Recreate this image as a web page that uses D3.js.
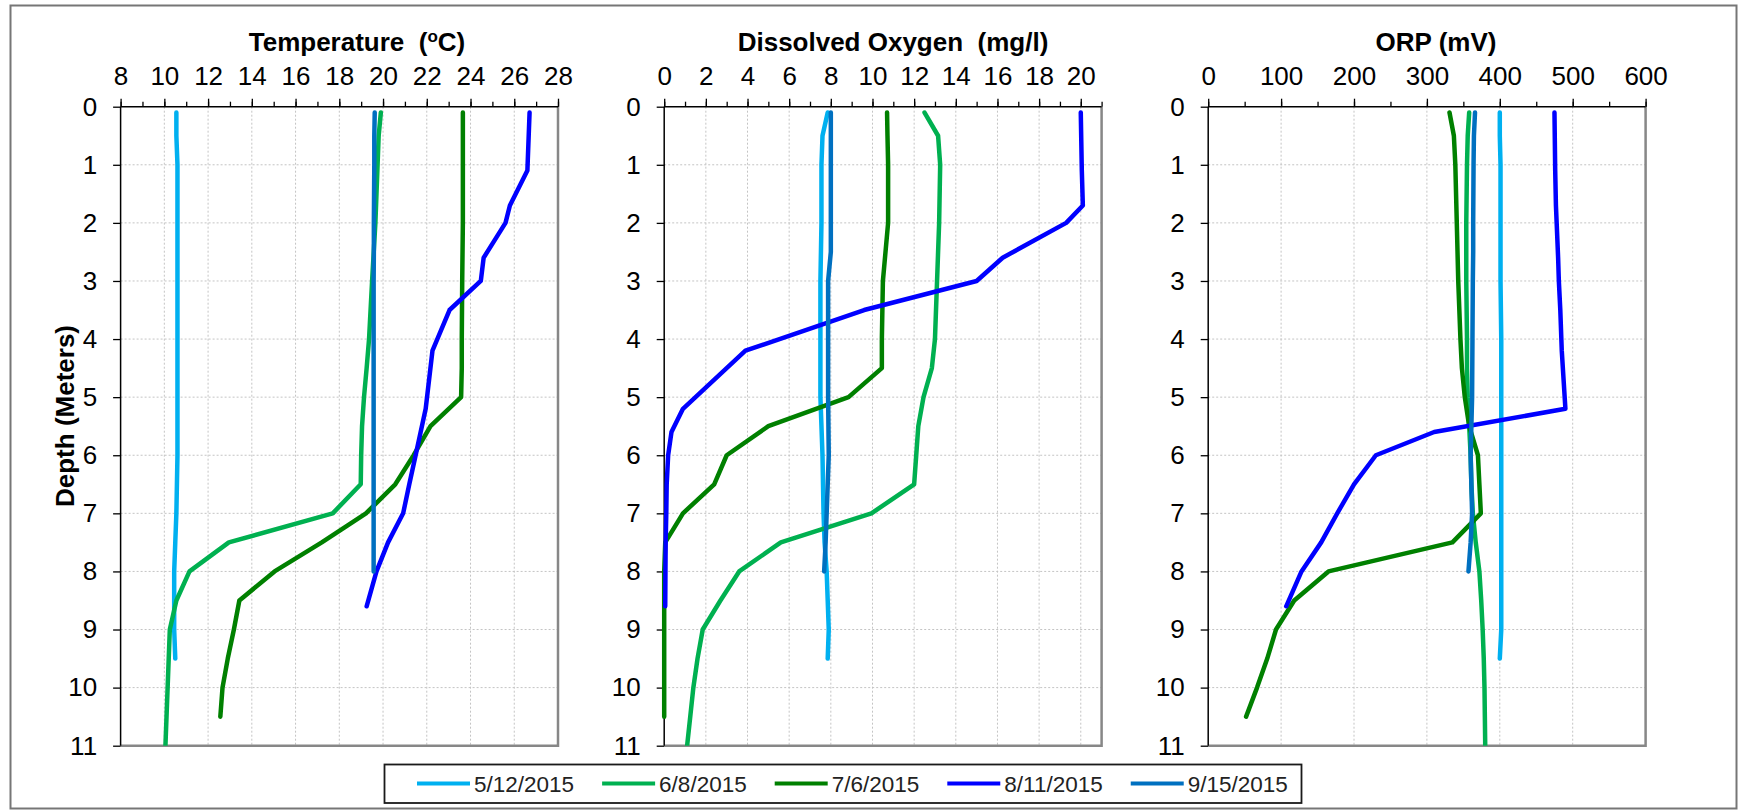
<!DOCTYPE html>
<html>
<head>
<meta charset="utf-8">
<script src="https://cdn.jsdelivr.net/npm/d3@7"></script>
<style>
  html, body { margin: 0; padding: 0; background: #fff; }
  svg { display: block; }
  text { font-family: "Liberation Sans", Arial, Helvetica, sans-serif; }
</style>
</head>
<body>
<svg id="chart" width="1739" height="811"></svg>
<script>
// ---- Profile data: depth (m) and readings per sampling date ----
const dates  = ["5/12/2015", "6/8/2015", "7/6/2015", "8/11/2015", "9/15/2015"];
const colors = ["#00B0F0", "#00B050", "#008000", "#0000FF", "#0070C0"];

const depth0512 = [0.1, 0.5, 1, 2, 3, 4, 5, 6, 7, 7.5, 8, 8.5, 9, 9.5];
const temp0512  = [10.55, 10.55, 10.6, 10.6, 10.6, 10.6, 10.6, 10.6, 10.55, 10.5, 10.45, 10.45, 10.45, 10.5];
const do0512    = [7.85, 7.6, 7.55, 7.55, 7.5, 7.5, 7.5, 7.6, 7.65, 7.7, 7.8, 7.85, 7.9, 7.85];
const orp0512   = [400, 400, 401, 401, 401, 402, 402, 402, 402, 402, 402, 402, 402, 400];

const depth0608 = [0.1, 0.5, 1, 2, 3, 4, 4.5, 5, 5.5, 6, 6.5, 7, 7.5, 8, 8.5, 9, 9.5, 10, 10.5, 11];
const temp0608  = [19.9, 19.8, 19.75, 19.65, 19.5, 19.36, 19.25, 19.13, 19.04, 19.0, 18.98, 17.7, 12.95, 11.15, 10.55, 10.25, 10.2, 10.15, 10.1, 10.05];
const do0608    = [12.5, 13.15, 13.25, 13.2, 13.1, 13.0, 12.85, 12.45, 12.2, 12.1, 12.0, 9.95, 5.6, 3.6, 2.7, 1.85, 1.6, 1.4, 1.25, 1.1];
const orp0608   = [358, 356, 355, 354, 354, 355, 355, 356, 358, 360, 361, 363, 367, 372, 374.5, 376.5, 378, 379, 379.5, 380];

const depth0706 = [0.1, 0.5, 1, 2, 3, 4, 4.5, 5, 5.5, 6, 6.5, 7, 7.5, 8, 8.5, 9, 9.5, 10, 10.5];
const temp0706  = [23.65, 23.65, 23.65, 23.65, 23.62, 23.6, 23.6, 23.57, 22.17, 21.4, 20.56, 19.22, 17.2, 15.04, 13.43, 13.18, 12.9, 12.66, 12.56];
const do0706    = [10.7, 10.72, 10.75, 10.75, 10.5, 10.45, 10.45, 8.85, 5.0, 3.0, 2.4, 0.9, 0.05, 0, 0, 0, 0, 0, 0];
const orp0706   = [331, 337, 339, 341, 343, 346, 348, 352, 358, 370, 372, 374, 335, 165, 118, 93, 81, 67, 52];

const depth0811 = [0.1, 1.1, 1.7, 2, 2.6, 3, 3.5, 4.2, 5.2, 5.6, 6, 6.5, 7, 7.5, 8, 8.6];
const temp0811  = [26.7, 26.6, 25.8, 25.6, 24.6, 24.47, 23.04, 22.26, 21.95, 21.72, 21.49, 21.2, 20.92, 20.23, 19.7, 19.25];
const do0811    = [20.0, 20.05, 20.1, 19.3, 16.25, 15.0, 9.6, 3.9, 0.9, 0.35, 0.19, 0.12, 0.1, 0.07, 0.06, 0.05];
const orp0811   = [475, 476, 477, 478, 480, 481, 483, 485, 490, 310, 230, 200, 177, 155, 128, 107];

const depth0915 = [0.1, 0.5, 1, 2, 2.5, 3, 4, 5, 6, 7, 7.5, 8];
const temp0915  = [19.62, 19.6, 19.6, 19.58, 19.58, 19.57, 19.57, 19.57, 19.57, 19.57, 19.57, 19.57];
const do0915    = [8.0, 8.0, 8.0, 8.0, 8.0, 7.87, 7.87, 7.87, 7.9, 7.8, 7.75, 7.68];
const orp0915   = [366, 364.5, 364, 363.5, 363.5, 363, 362.5, 362, 360, 362, 360, 357];

// Axis settings for the three panels
const tempTicks = d3.range(8, 29, 2);
const doTicks   = d3.range(0, 21, 2);
const orpTicks  = d3.range(0, 601, 100);
const depthTicks = d3.range(0, 12, 1);

// ---- Assemble series ----
const depths = [depth0512, depth0608, depth0706, depth0811, depth0915];
const temps  = [temp0512, temp0608, temp0706, temp0811, temp0915];
const dos    = [do0512, do0608, do0706, do0811, do0915];
const orps   = [orp0512, orp0608, orp0706, orp0811, orp0915];

const panels = [
  { title: ["Temperature  (", "o", "C)"], titleX: 357, domain: [8, 28], ticks: tempTicks, minor: 1, left: 120.6, values: temps },
  { title: ["Dissolved Oxygen  (mg/l)"], titleX: 893, domain: [0, 21], ticks: doTicks, minor: 1, left: 664.2, values: dos },
  { title: ["ORP (mV)"], titleX: 1436, domain: [0, 600], ticks: orpTicks, minor: 50, left: 1208.2, values: orps }
];

const W = 1739, H = 811;
const plotTop = 106.7, plotBottom = 745.7, plotW = 437.4;
const FONT = "'Liberation Sans', Arial, Helvetica, sans-serif";

const svg = d3.select("#chart");

// Outer chart frame
svg.append("rect")
  .attr("x", 10.5).attr("y", 5.5)
  .attr("width", 1726).attr("height", 803)
  .attr("fill", "#fff").attr("stroke", "#767676").attr("stroke-width", 2);

const y = d3.scaleLinear().domain([0, 11]).range([plotTop, plotBottom]);

const defs = svg.append("defs");

panels.forEach((p, pi) => {
  const x = d3.scaleLinear().domain(p.domain).range([p.left, p.left + plotW]);
  const g = svg.append("g");

  // dotted grid
  const gx = p.ticks.filter(t => t !== p.domain[0] && t !== p.domain[1]);
  g.append("g").selectAll("line").data(gx).join("line")
    .attr("x1", d => x(d)).attr("x2", d => x(d))
    .attr("y1", plotTop).attr("y2", plotBottom)
    .attr("stroke", "#c4c4c4").attr("stroke-width", 1).attr("stroke-dasharray", "2,2");
  g.append("g").selectAll("line").data(depthTicks.filter(t => t > 0 && t < 11)).join("line")
    .attr("x1", p.left).attr("x2", p.left + plotW)
    .attr("y1", d => y(d)).attr("y2", d => y(d))
    .attr("stroke", "#c4c4c4").attr("stroke-width", 1).attr("stroke-dasharray", "2,2");

  // grey plot-area border on right and bottom
  g.append("path")
    .attr("d", `M${p.left},${plotBottom}H${p.left + plotW}V${plotTop}`)
    .attr("fill", "none").attr("stroke", "#878787").attr("stroke-width", 2.5);

  // minor ticks on top axis
  const minorVals = d3.range(p.domain[0], p.domain[1] + 1e-9, p.minor);
  const axMinor = d3.axisTop(x).tickValues(minorVals).tickSize(5).tickSizeOuter(0).tickFormat("");
  const gMinor = g.append("g").attr("transform", `translate(0,${plotTop})`).call(axMinor);
  gMinor.select(".domain").remove();
  gMinor.selectAll("line").attr("stroke", "#000").attr("stroke-width", 1.3);

  // major ticks + labels on top axis
  const axTop = d3.axisTop(x).tickValues(p.ticks).tickSize(8).tickSizeOuter(0).tickPadding(14);
  const gTop = g.append("g").attr("transform", `translate(0,${plotTop})`).call(axTop);
  gTop.select(".domain").remove();
  gTop.selectAll("line").attr("stroke", "#000").attr("stroke-width", 1.3);
  gTop.selectAll("text").attr("font-size", 26).attr("font-family", FONT).attr("fill", "#000");
  g.append("line")
    .attr("x1", p.left).attr("x2", p.left + plotW)
    .attr("y1", plotTop).attr("y2", plotTop)
    .attr("stroke", "#000").attr("stroke-width", 1.5);

  // depth axis
  const axLeft = d3.axisLeft(y).tickValues(depthTicks).tickSize(7.5).tickSizeOuter(0).tickPadding(16);
  const gLeft = g.append("g").attr("transform", `translate(${p.left},0)`).call(axLeft);
  gLeft.select(".domain").remove();
  gLeft.selectAll("line").attr("stroke", "#000").attr("stroke-width", 1.3);
  gLeft.selectAll("text").attr("font-size", 26).attr("font-family", FONT).attr("fill", "#000");
  g.append("line")
    .attr("x1", p.left).attr("x2", p.left)
    .attr("y1", plotTop).attr("y2", plotBottom)
    .attr("stroke", "#000").attr("stroke-width", 1.5);

  // panel title
  const t = g.append("text")
    .attr("x", p.titleX).attr("y", 50.5)
    .attr("text-anchor", "middle")
    .attr("font-size", 26).attr("font-weight", "bold")
    .style("white-space", "pre");
  if (p.title.length === 3) {
    t.append("tspan").text(p.title[0]);
    t.append("tspan").attr("font-size", 17).attr("dy", -9).text(p.title[1]);
    t.append("tspan").attr("dy", 9).text(p.title[2]);
  } else {
    t.text(p.title[0]);
  }

  // profiles, clipped at the bottom of the plot area
  const clipId = "clip" + pi;
  defs.append("clipPath").attr("id", clipId).append("rect")
    .attr("x", p.left - 6).attr("y", plotTop - 6)
    .attr("width", plotW + 12).attr("height", plotBottom - plotTop + 6);

  const line = d3.line()
    .x(d => x(d[1]))
    .y(d => y(d[0]));

  const gs = g.append("g").attr("clip-path", `url(#${clipId})`);
  dates.forEach((name, i) => {
    const pts = depths[i].map((dep, k) => [dep, p.values[i][k]]);
    gs.append("path")
      .attr("d", line(pts))
      .attr("fill", "none")
      .attr("stroke", colors[i])
      .attr("stroke-width", 4.5)
      .attr("stroke-linejoin", "round")
      .attr("stroke-linecap", "round");
  });
});

// vertical axis title
svg.append("text")
  .attr("transform", `translate(74,416) rotate(-90)`)
  .attr("text-anchor", "middle")
  .attr("font-size", 26).attr("font-weight", "bold")
  .text("Depth (Meters)");

// ---- Legend ----
const leg = svg.append("g");
leg.append("rect")
  .attr("x", 384.5).attr("y", 764.5).attr("width", 917).attr("height", 38.5)
  .attr("fill", "#fff").attr("stroke", "#1a1a1a").attr("stroke-width", 1.8);

let lx = 417;
const ly = 783.5;
dates.forEach((name, i) => {
  leg.append("line")
    .attr("x1", lx).attr("x2", lx + 53)
    .attr("y1", ly).attr("y2", ly)
    .attr("stroke", colors[i]).attr("stroke-width", 4);
  const txt = leg.append("text")
    .attr("x", lx + 57).attr("y", ly + 8)
    .attr("font-size", 22.5).attr("fill", "#222")
    .text(name);
  lx = lx + 57 + txt.node().getComputedTextLength() + 28;
});
</script>
</body>
</html>
